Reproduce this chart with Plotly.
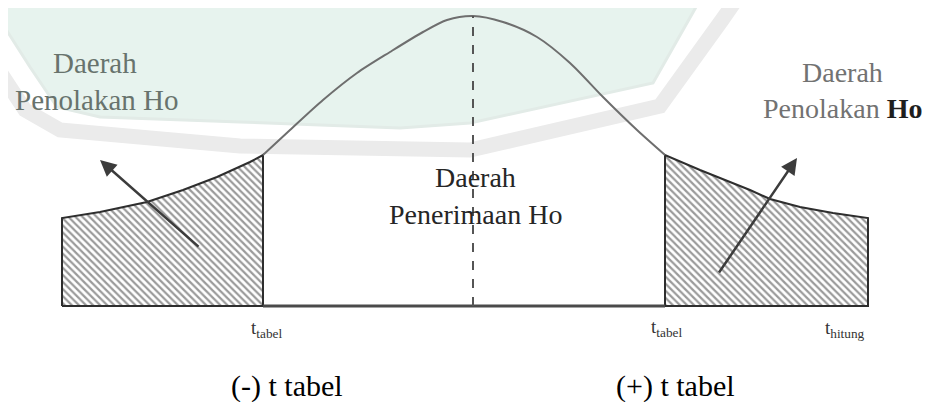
import plotly.graph_objects as go

# horizontal positions (same units as the picture width) and heights above the base line
curve_x = [263, 290, 323, 357, 390, 423, 447, 473, 503, 537, 570, 603, 637, 665]
curve_h = [151, 176, 206, 233, 254, 274, 286, 290, 284, 269, 243, 209, 176, 151]

left_tail_x = [62, 100, 147, 183, 217, 250, 263]
left_tail_h = [88, 94, 104, 116, 129, 144, 151]

right_tail_x = [665, 700, 750, 770, 800, 833, 868]
right_tail_h = [151, 136, 116, 107, 99, 93, 88]

center_x = 473
peak_h = 290
t_tabel_left = 263
t_tabel_right = 665
t_hitung = 868

SERIF = "Liberation Serif, Times New Roman, serif"
BODY = 8  # default page margin that plotly's html keeps around the figure

fig = go.Figure()

# hatched rejection regions
for xs, hs in [(left_tail_x, left_tail_h), (right_tail_x, right_tail_h)]:
    px = [xs[0]] + xs + [xs[-1], xs[0]]
    ph = [0] + hs + [0, 0]
    fig.add_trace(go.Scatter(
        x=px, y=ph, mode="lines", fill="toself",
        fillcolor="white",
        fillpattern=dict(shape="\\", size=5, solidity=0.45, fgcolor="#363636", bgcolor="white"),
        line=dict(color="#2e2e2e", width=2),
        hoverinfo="skip", showlegend=False,
    ))

# bell curve
fig.add_trace(go.Scatter(
    x=curve_x, y=curve_h, mode="lines",
    line=dict(color="#6e6e6e", width=2, shape="spline", smoothing=0.8),
    hoverinfo="skip", showlegend=False,
))

# base line of the acceptance region
fig.add_trace(go.Scatter(
    x=[t_tabel_left, t_tabel_right], y=[0, 0], mode="lines",
    line=dict(color="#4a4a4a", width=3), hoverinfo="skip", showlegend=False,
))

# dashed centre line
fig.add_trace(go.Scatter(
    x=[center_x, center_x], y=[0, peak_h], mode="lines",
    line=dict(color="#555555", width=2, dash="dash"), hoverinfo="skip", showlegend=False,
))


# watermark in the background (decoration only)
def pt(xp, yp):
    return f"{xp},{306 - yp}"


mint = [(0, 0), (0, 20), (30, 67), (57, 107), (100, 117), (240, 122), (400, 128),
        (470, 123), (653, 83), (700, 0)]
band = [(0, 72), (25, 110), (60, 130), (240, 146), (470, 150), (660, 106), (722, 20), (736, 0)]
shapes = [
    dict(type="path", xref="x", yref="y", layer="below", line=dict(color="#e2ebe7", width=3),
         fillcolor="#e7f3ee", path="M " + " L ".join(pt(a, b) for a, b in mint) + " Z"),
    dict(type="path", xref="x", yref="y", layer="below",
         line=dict(color="#ebebeb", width=15),
         path="M " + " L ".join(pt(a, b) for a, b in band)),
]

annotations = [
    # arrows
    dict(x=100, y=146, ax=200, ay=58, xref="x", yref="y", axref="x", ayref="y",
         showarrow=True, arrowhead=2, arrowsize=1.3, arrowwidth=2.5, arrowcolor="#3c3c3c", text=""),
    dict(x=797, y=148, ax=718, ay=32, xref="x", yref="y", axref="x", ayref="y",
         showarrow=True, arrowhead=2, arrowsize=1.3, arrowwidth=2.5, arrowcolor="#3c3c3c", text=""),
]


def label(x, y, text, size, color):
    annotations.append(dict(x=x, y=y, xref="x", yref="y", text=text, showarrow=False,
                            xanchor="center", yanchor="middle",
                            font=dict(family=SERIF, size=size, color=color)))


label(95, 243, "Daerah", 29, "#68736d")
label(97, 206, "Penolakan Ho", 29, "#68736d")
label(842, 234, "Daerah", 28, "#727272")
label(842, 198, "Penolakan <span style='color:#1e1e1e'><b>Ho</b></span>", 28, "#727272")
label(475, 129, "Daerah", 28, "#262626")
label(475, 92, "Penerimaan Ho", 28, "#262626")
label(t_tabel_left + 3, -23, "t<sub>tabel</sub>", 19, "#333333")
label(t_tabel_right + 1, -22, "t<sub>tabel</sub>", 19, "#333333")
label(t_hitung - 23, -23, "t<sub>hitung</sub>", 19, "#333333")
label(287, -80, "(-) t tabel", 30, "#000000")
label(675, -80, "(+) t tabel", 30, "#000000")

fig.update_layout(
    width=930 - BODY, height=402 - BODY,
    margin=dict(l=0, r=0, t=0, b=0),
    paper_bgcolor="white", plot_bgcolor="white",
    xaxis=dict(range=[BODY, 930], visible=False, fixedrange=True),
    yaxis=dict(range=[306 - 402, 306 - BODY], visible=False, fixedrange=True),
    shapes=shapes,
    annotations=annotations,
)

fig.write_html("out.html")
